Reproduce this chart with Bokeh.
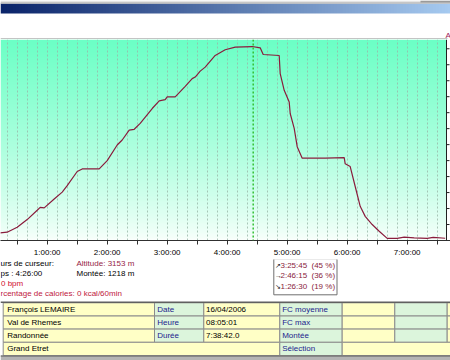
import numpy as np
from bokeh.plotting import figure
from bokeh.layouts import column
from bokeh.models import Range1d, FixedTicker, Span
from bokeh.core.properties import value
from bokeh.embed import file_html
from bokeh.resources import INLINE

# ---------------- data ----------------
time_min = [13, 20, 30, 40, 50, 53, 57, 67, 75, 80, 90, 95, 112, 120, 130, 135, 142, 147, 153, 165,
            172, 178, 180, 188, 198, 205, 208, 213, 218, 228, 238, 248, 265, 273, 276, 292, 293, 297, 302, 303,
            307, 310, 315, 338, 357, 358, 363, 368, 373, 378, 385, 392, 400, 410, 417, 427, 440, 446, 458]
altitude_m = [1998, 2002, 2033, 2081, 2139, 2157, 2154, 2210, 2253, 2294, 2382, 2398, 2398, 2450, 2548, 2579, 2641, 2646, 2683, 2776,
              2824, 2832, 2849, 2849, 2915, 2963, 2973, 3010, 3035, 3108, 3144, 3160, 3164, 3156, 3114, 3108, 2994, 2890, 2817, 2745,
              2652, 2537, 2465, 2465, 2469, 2430, 2413, 2288, 2164, 2101, 2050, 2008, 1963, 1963, 1971, 1967, 1963, 1969, 1964]
cursor_min = 266
hour_ticks = [60, 120, 180, 240, 300, 360, 420]
hour_labels = ["1:00:00", "2:00:00", "3:00:00", "4:00:00", "5:00:00", "6:00:00", "7:00:00"]
half_hour_ticks = [30, 90, 150, 210, 270, 330, 390, 450]
grid_min = list(range(20, 460, 10))
alt_ticks = [1950, 2050, 2150, 2250, 2350, 2450, 2550, 2650, 2750, 2850, 2950, 3050, 3150]

info_left = ["urs de curseur:", "ps : 4:26:00", "0 bpm", "rcentage de calories: 0 kcal/60min"]
info_right = ["Altitude: 3153 m", "Montée: 1218 m"]
zone_arrows = ["\u2197", "\u2192", "\u2198"]
zone_times = ["3:25:45", "2:46:15", "1:26:30"]
zone_pcts = ["(45 %)", "(36 %)", "(19 %)"]

row_names = ["François LEMAIRE", "Val de Rhemes", "Randonnée", "Grand Etret"]
field_labels = ["Date", "Heure", "Durée"]
field_values = ["16/04/2006", "08:05:01", "7:38:42.0"]
stat_labels = ["FC moyenne", "FC max", "Montée", "Sélection"]

FONT = value("Liberation Sans")
W = 450


def rgba_image(rows):
    h, w = len(rows), len(rows[0])
    img = np.empty((h, w), dtype=np.uint32)
    view = img.view(dtype=np.uint8).reshape((h, w, 4))
    for i in range(h):
        for j in range(w):
            r, g, b = rows[i][j]
            view[i, j, 0] = int(r)
            view[i, j, 1] = int(g)
            view[i, j, 2] = int(b)
            view[i, j, 3] = 255
    return img


def blank_fig(h, y0, y1):
    f = figure(width=W, height=h, x_range=Range1d(0, W), y_range=Range1d(y0, y1),
               output_backend="svg", toolbar_location=None, min_border=0,
               outline_line_color=None, background_fill_color="white", border_fill_color="white")
    f.axis.visible = False
    f.grid.visible = False
    return f


# ---------------- header ----------------
head = blank_fig(39, 39, 0)
c0 = np.array([10, 36, 106]); c1 = np.array([166, 202, 240])
grad = [[tuple(c0 + (c1 - c0) * (j / 149.0)) for j in range(150)]]
head.image_rgba(image=[rgba_image(grad)], x=0, y=3, dw=W, dh=10)
head.quad(left=0, right=W, top=0, bottom=3, fill_color="#e4e4e4", line_color=None)
head.quad(left=0, right=W, top=2, bottom=3, fill_color="#a8a8a8", line_color=None)
head.quad(left=420, right=W, top=0, bottom=2, fill_color="#9a9a9a", line_color=None)
head.quad(left=0, right=447, top=38, bottom=39, fill_color="#8a8a8a", line_color=None)
head.text(x=[445], y=[35], text=["A"], text_color="#a0205a", text_font=FONT,
          text_font_size="8px", text_baseline="middle", text_align="left")

# ---------------- main chart ----------------
t0, t_axis, t1 = 13.3, 459.3, 463.3
a0, a1 = 1950, 3208
main = figure(width=W, height=220, x_range=Range1d(t0, t1), y_range=Range1d(a0, a1),
              output_backend="svg", toolbar_location=None, y_axis_location=None,
              min_border_left=0, min_border_right=0, min_border_top=0, min_border_bottom=18,
              outline_line_color=None, background_fill_color="white", border_fill_color="white")
H = 120
top_c = np.array([108, 255, 198]); bot_c = np.array([250, 255, 252])
bg_rows = [[tuple(bot_c + (top_c - bot_c) * ((i / (H - 1)) ** 0.8))] for i in range(H)]
main.image_rgba(image=[rgba_image(bg_rows)], x=t0, y=a0, dw=t_axis - t0, dh=a1 - a0, level="image")

main.ygrid.visible = False
main.xgrid.ticker = FixedTicker(ticks=grid_min)
main.xgrid.grid_line_color = "#98b8a8"
main.xgrid.grid_line_dash = "2 2"
main.xgrid.grid_line_alpha = 0.8

main.add_layout(Span(location=cursor_min, dimension="height", line_color="#33c033",
                     line_dash="2 2", line_width=1.5))
main.line(time_min, altitude_m, line_color="#8a1c3c", line_width=1.2)

# right-hand altitude axis (labels lie beyond the window)
main.add_layout(Span(location=t_axis, dimension="height", line_color="#202020", line_width=1))
main.segment(x0=[t_axis] * len(alt_ticks), y0=alt_ticks, x1=[t_axis + 3] * len(alt_ticks), y1=alt_ticks,
             line_color="#202020", line_width=1)

xa = main.xaxis[0]
xa.ticker = FixedTicker(ticks=hour_ticks, minor_ticks=half_hour_ticks)
xa.major_label_overrides = dict(zip(hour_ticks, hour_labels))
xa.major_label_text_font = "Liberation Sans"
xa.major_label_text_font_size = "8px"
xa.major_label_text_color = "#000000"
xa.major_label_standoff = 3
xa.major_tick_out = 4; xa.major_tick_in = 0
xa.minor_tick_out = 4; xa.minor_tick_in = 0
xa.axis_line_color = "#303030"; xa.major_tick_line_color = "#303030"; xa.minor_tick_line_color = "#303030"

# ---------------- bottom panel ----------------
bot = blank_fig(101, 360, 259)
txt = dict(text_font=FONT, text_font_size="8px", text_baseline="middle", text_align="left")
bot.text(x=[0, 0, 0.5, 0], y=[263, 273, 283, 293], text=info_left,
         text_color=["#000000", "#000000", "#d01030", "#c02040"], **txt)
bot.text(x=[76, 76], y=[263, 273], text=info_right, text_color=["#961e46", "#000000"], **txt)

bot.quad(left=273.3, right=336.5, top=258.3, bottom=294.3, fill_color="white", line_color="#707070")
zone_y = [264.5, 275, 285.5]
bot.text(x=[274.5] * 3, y=zone_y, text=zone_arrows, text_color="#202020",
         text_font=FONT, text_font_size="7px", text_baseline="middle", text_align="left")
bot.text(x=[280] * 3, y=zone_y, text=zone_times, text_color="#8a1c3c", **txt)
bot.text(x=[311] * 3, y=zone_y, text=zone_pcts, text_color="#8a1c3c", **txt)

YEL = "#ffffc6"; GRN = "#dcf5dc"
col_edges = [2.7, 154, 203.3, 279.3, 341.7, 394.3, 446.7, 452]
row_edges = [302.3, 315.5, 328.6, 341.8, 355]
col_fill = [YEL, GRN, YEL, GRN, YEL, GRN, YEL]
L, R, T, B, F = [], [], [], [], []
for r in range(3):
    for c in range(7):
        L.append(col_edges[c]); R.append(col_edges[c + 1])
        T.append(row_edges[r]); B.append(row_edges[r + 1]); F.append(col_fill[c])
for (c_a, c_b, fc) in [(0, 3, YEL), (3, 4, GRN), (4, 7, YEL)]:
    L.append(col_edges[c_a]); R.append(col_edges[c_b])
    T.append(row_edges[3]); B.append(row_edges[4]); F.append(fc)
bot.quad(left=L, right=R, top=T, bottom=B, fill_color=F, line_color="#8c8c8c", line_width=1)
bot.quad(left=0, right=W, top=301, bottom=302.6, fill_color="#606060", line_color=None)
bot.quad(left=0, right=W, top=355, bottom=360, fill_color="#b4b4b4", line_color=None)
bot.quad(left=0, right=W, top=355, bottom=356, fill_color="#5a5a5a", line_color=None)

row_y = [(row_edges[i] + row_edges[i + 1]) / 2 for i in range(4)]
bot.text(x=[6.7] * 4, y=row_y, text=row_names, text_color="#000000", **txt)
bot.text(x=[156.7] * 3, y=row_y[:3], text=field_labels, text_color="#1c1c8c", **txt)
bot.text(x=[205.5] * 3, y=row_y[:3], text=field_values, text_color="#000000", **txt)
bot.text(x=[281.7] * 4, y=row_y, text=stat_labels, text_color="#1c1c8c", **txt)

layout = column(head, main, bot, spacing=0)
open("out.html", "w").write(file_html(layout, INLINE))
